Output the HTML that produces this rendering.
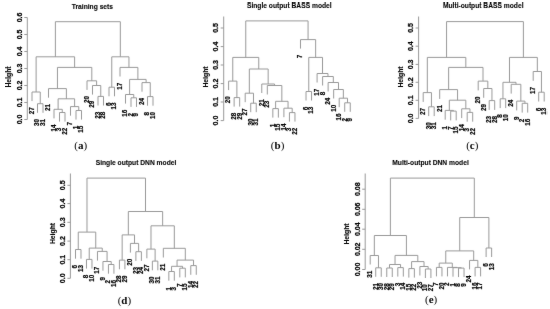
<!DOCTYPE html>
<html><head><meta charset="utf-8"><title>Dendrograms</title>
<style>
html,body{margin:0;padding:0;background:#fff;}
body{width:550px;height:309px;overflow:hidden;}
svg{display:block;will-change:transform;}
.ln line{stroke:#999999;stroke-width:1;fill:none;}
text{font-family:"Liberation Sans",sans-serif;fill:#000;stroke:#000;stroke-width:0.2px;}
text.b{font-weight:bold;}
text.cap{font-family:"Liberation Serif",serif;}
</style></head>
<body>
<svg width="550" height="309" viewBox="0 0 550 309">
<defs><filter id="bl" x="0" y="0" width="100%" height="100%"><feConvolveMatrix order="3" kernelMatrix="0.008 0.045 0.008 0.045 0.788 0.045 0.008 0.045 0.008" preserveAlpha="false"/></filter></defs>
<rect width="550" height="309" fill="#fff"/>
<g filter="url(#bl)">
<g class="ln">
<line x1="27.30" y1="17.50" x2="27.30" y2="119.50"/>
<line x1="24.30" y1="119.50" x2="27.30" y2="119.50"/>
<line x1="24.30" y1="102.50" x2="27.30" y2="102.50"/>
<line x1="24.30" y1="85.50" x2="27.30" y2="85.50"/>
<line x1="24.30" y1="68.50" x2="27.30" y2="68.50"/>
<line x1="24.30" y1="51.50" x2="27.30" y2="51.50"/>
<line x1="24.30" y1="34.50" x2="27.30" y2="34.50"/>
<line x1="24.30" y1="17.50" x2="27.30" y2="17.50"/>
</g>
<text class="b" transform="translate(19.40,119.50) rotate(-90)" text-anchor="middle" dy="0.30em" font-size="7.0" style="stroke-width:0.25px">0.0</text>
<text class="b" transform="translate(19.40,102.50) rotate(-90)" text-anchor="middle" dy="0.30em" font-size="7.0" style="stroke-width:0.25px">0.1</text>
<text class="b" transform="translate(19.40,85.50) rotate(-90)" text-anchor="middle" dy="0.30em" font-size="7.0" style="stroke-width:0.25px">0.2</text>
<text class="b" transform="translate(19.40,68.50) rotate(-90)" text-anchor="middle" dy="0.30em" font-size="7.0" style="stroke-width:0.25px">0.3</text>
<text class="b" transform="translate(19.40,51.50) rotate(-90)" text-anchor="middle" dy="0.30em" font-size="7.0" style="stroke-width:0.25px">0.4</text>
<text class="b" transform="translate(19.40,34.50) rotate(-90)" text-anchor="middle" dy="0.30em" font-size="7.0" style="stroke-width:0.25px">0.5</text>
<text class="b" transform="translate(19.40,17.50) rotate(-90)" text-anchor="middle" dy="0.30em" font-size="7.0" style="stroke-width:0.25px">0.6</text>
<text class="b" transform="translate(9.20,77.00) rotate(-90)" text-anchor="middle" dy="0.30em" font-size="6.8" style="stroke-width:0.1px">Height</text>
<text class="b" x="92.40" y="9.00" text-anchor="middle" font-size="6.7" style="stroke-width:0.1px">Training sets</text>
<g class="ln">
<line x1="32.00" y1="92.00" x2="32.00" y2="101.10"/>
<line x1="37.50" y1="103.70" x2="37.50" y2="112.80"/>
<line x1="43.00" y1="103.70" x2="43.00" y2="112.80"/>
<line x1="37.50" y1="103.70" x2="43.00" y2="103.70"/>
<line x1="40.25" y1="92.00" x2="40.25" y2="103.70"/>
<line x1="32.00" y1="92.00" x2="40.25" y2="92.00"/>
<line x1="36.12" y1="56.80" x2="36.12" y2="92.00"/>
<line x1="48.50" y1="88.60" x2="48.50" y2="97.70"/>
<line x1="54.00" y1="109.30" x2="54.00" y2="118.40"/>
<line x1="59.50" y1="112.50" x2="59.50" y2="121.60"/>
<line x1="65.00" y1="112.50" x2="65.00" y2="121.60"/>
<line x1="59.50" y1="112.50" x2="65.00" y2="112.50"/>
<line x1="62.25" y1="109.30" x2="62.25" y2="112.50"/>
<line x1="54.00" y1="109.30" x2="62.25" y2="109.30"/>
<line x1="58.12" y1="98.80" x2="58.12" y2="109.30"/>
<line x1="70.50" y1="106.60" x2="70.50" y2="115.70"/>
<line x1="76.00" y1="110.50" x2="76.00" y2="119.60"/>
<line x1="81.50" y1="110.50" x2="81.50" y2="119.60"/>
<line x1="76.00" y1="110.50" x2="81.50" y2="110.50"/>
<line x1="78.75" y1="106.60" x2="78.75" y2="110.50"/>
<line x1="70.50" y1="106.60" x2="78.75" y2="106.60"/>
<line x1="74.62" y1="98.80" x2="74.62" y2="106.60"/>
<line x1="58.12" y1="98.80" x2="74.62" y2="98.80"/>
<line x1="66.38" y1="88.60" x2="66.38" y2="98.80"/>
<line x1="48.50" y1="88.60" x2="66.38" y2="88.60"/>
<line x1="57.44" y1="67.40" x2="57.44" y2="88.60"/>
<line x1="87.00" y1="80.80" x2="87.00" y2="89.90"/>
<line x1="92.50" y1="85.50" x2="92.50" y2="94.60"/>
<line x1="98.00" y1="96.40" x2="98.00" y2="105.50"/>
<line x1="103.50" y1="96.40" x2="103.50" y2="105.50"/>
<line x1="98.00" y1="96.40" x2="103.50" y2="96.40"/>
<line x1="100.75" y1="85.50" x2="100.75" y2="96.40"/>
<line x1="92.50" y1="85.50" x2="100.75" y2="85.50"/>
<line x1="96.62" y1="80.80" x2="96.62" y2="85.50"/>
<line x1="87.00" y1="80.80" x2="96.62" y2="80.80"/>
<line x1="91.81" y1="67.40" x2="91.81" y2="80.80"/>
<line x1="57.44" y1="67.40" x2="91.81" y2="67.40"/>
<line x1="74.62" y1="56.80" x2="74.62" y2="67.40"/>
<line x1="36.12" y1="56.80" x2="74.62" y2="56.80"/>
<line x1="55.38" y1="21.70" x2="55.38" y2="56.80"/>
<line x1="109.00" y1="87.20" x2="109.00" y2="96.30"/>
<line x1="114.50" y1="87.20" x2="114.50" y2="96.30"/>
<line x1="109.00" y1="87.20" x2="114.50" y2="87.20"/>
<line x1="111.75" y1="56.80" x2="111.75" y2="87.20"/>
<line x1="120.00" y1="67.40" x2="120.00" y2="76.50"/>
<line x1="125.50" y1="94.50" x2="125.50" y2="103.60"/>
<line x1="131.00" y1="97.80" x2="131.00" y2="106.90"/>
<line x1="136.50" y1="97.80" x2="136.50" y2="106.90"/>
<line x1="131.00" y1="97.80" x2="136.50" y2="97.80"/>
<line x1="133.75" y1="94.50" x2="133.75" y2="97.80"/>
<line x1="125.50" y1="94.50" x2="133.75" y2="94.50"/>
<line x1="129.62" y1="79.40" x2="129.62" y2="94.50"/>
<line x1="142.00" y1="82.60" x2="142.00" y2="91.70"/>
<line x1="147.50" y1="96.60" x2="147.50" y2="105.70"/>
<line x1="153.00" y1="96.60" x2="153.00" y2="105.70"/>
<line x1="147.50" y1="96.60" x2="153.00" y2="96.60"/>
<line x1="150.25" y1="82.60" x2="150.25" y2="96.60"/>
<line x1="142.00" y1="82.60" x2="150.25" y2="82.60"/>
<line x1="146.12" y1="79.40" x2="146.12" y2="82.60"/>
<line x1="129.62" y1="79.40" x2="146.12" y2="79.40"/>
<line x1="137.88" y1="67.40" x2="137.88" y2="79.40"/>
<line x1="120.00" y1="67.40" x2="137.88" y2="67.40"/>
<line x1="128.94" y1="56.80" x2="128.94" y2="67.40"/>
<line x1="111.75" y1="56.80" x2="128.94" y2="56.80"/>
<line x1="120.34" y1="21.70" x2="120.34" y2="56.80"/>
<line x1="55.38" y1="21.70" x2="120.34" y2="21.70"/>
</g>
<text class="b" transform="translate(32.00,107.30) rotate(-90)" text-anchor="end" dy="0.30em" font-size="6.3">27</text>
<text class="b" transform="translate(37.50,119.00) rotate(-90)" text-anchor="end" dy="0.30em" font-size="6.3">30</text>
<text class="b" transform="translate(43.00,119.00) rotate(-90)" text-anchor="end" dy="0.30em" font-size="6.3">31</text>
<text class="b" transform="translate(48.50,103.90) rotate(-90)" text-anchor="end" dy="0.30em" font-size="6.3">21</text>
<text class="b" transform="translate(54.00,124.60) rotate(-90)" text-anchor="end" dy="0.30em" font-size="6.3">14</text>
<text class="b" transform="translate(59.50,127.80) rotate(-90)" text-anchor="end" dy="0.30em" font-size="6.3">3</text>
<text class="b" transform="translate(65.00,127.80) rotate(-90)" text-anchor="end" dy="0.30em" font-size="6.3">22</text>
<text class="b" transform="translate(70.50,121.90) rotate(-90)" text-anchor="end" dy="0.30em" font-size="6.3">7</text>
<text class="b" transform="translate(76.00,125.80) rotate(-90)" text-anchor="end" dy="0.30em" font-size="6.3">1</text>
<text class="b" transform="translate(81.50,125.80) rotate(-90)" text-anchor="end" dy="0.30em" font-size="6.3">15</text>
<text class="b" transform="translate(87.00,96.10) rotate(-90)" text-anchor="end" dy="0.30em" font-size="6.3">20</text>
<text class="b" transform="translate(92.50,100.80) rotate(-90)" text-anchor="end" dy="0.30em" font-size="6.3">29</text>
<text class="b" transform="translate(98.00,111.70) rotate(-90)" text-anchor="end" dy="0.30em" font-size="6.3">23</text>
<text class="b" transform="translate(103.50,111.70) rotate(-90)" text-anchor="end" dy="0.30em" font-size="6.3">28</text>
<text class="b" transform="translate(109.00,102.50) rotate(-90)" text-anchor="end" dy="0.30em" font-size="6.3">6</text>
<text class="b" transform="translate(114.50,102.50) rotate(-90)" text-anchor="end" dy="0.30em" font-size="6.3">13</text>
<text class="b" transform="translate(120.00,82.70) rotate(-90)" text-anchor="end" dy="0.30em" font-size="6.3">17</text>
<text class="b" transform="translate(125.50,109.80) rotate(-90)" text-anchor="end" dy="0.30em" font-size="6.3">16</text>
<text class="b" transform="translate(131.00,113.10) rotate(-90)" text-anchor="end" dy="0.30em" font-size="6.3">2</text>
<text class="b" transform="translate(136.50,113.10) rotate(-90)" text-anchor="end" dy="0.30em" font-size="6.3">9</text>
<text class="b" transform="translate(142.00,97.90) rotate(-90)" text-anchor="end" dy="0.30em" font-size="6.3">24</text>
<text class="b" transform="translate(147.50,111.90) rotate(-90)" text-anchor="end" dy="0.30em" font-size="6.3">8</text>
<text class="b" transform="translate(153.00,111.90) rotate(-90)" text-anchor="end" dy="0.30em" font-size="6.3">10</text>
<g class="ln">
<line x1="223.70" y1="16.50" x2="223.70" y2="120.60"/>
<line x1="220.70" y1="120.60" x2="223.70" y2="120.60"/>
<line x1="220.70" y1="102.00" x2="223.70" y2="102.00"/>
<line x1="220.70" y1="83.60" x2="223.70" y2="83.60"/>
<line x1="220.70" y1="65.00" x2="223.70" y2="65.00"/>
<line x1="220.70" y1="46.60" x2="223.70" y2="46.60"/>
<line x1="220.70" y1="28.00" x2="223.70" y2="28.00"/>
</g>
<text class="b" transform="translate(215.90,120.60) rotate(-90)" text-anchor="middle" dy="0.30em" font-size="7.0" style="stroke-width:0.25px">0.0</text>
<text class="b" transform="translate(215.90,102.00) rotate(-90)" text-anchor="middle" dy="0.30em" font-size="7.0" style="stroke-width:0.25px">0.1</text>
<text class="b" transform="translate(215.90,83.60) rotate(-90)" text-anchor="middle" dy="0.30em" font-size="7.0" style="stroke-width:0.25px">0.2</text>
<text class="b" transform="translate(215.90,65.00) rotate(-90)" text-anchor="middle" dy="0.30em" font-size="7.0" style="stroke-width:0.25px">0.3</text>
<text class="b" transform="translate(215.90,46.60) rotate(-90)" text-anchor="middle" dy="0.30em" font-size="7.0" style="stroke-width:0.25px">0.4</text>
<text class="b" transform="translate(215.90,28.00) rotate(-90)" text-anchor="middle" dy="0.30em" font-size="7.0" style="stroke-width:0.25px">0.5</text>
<text class="b" transform="translate(206.20,77.00) rotate(-90)" text-anchor="middle" dy="0.30em" font-size="6.8" style="stroke-width:0.1px">Height</text>
<text class="b" x="289.30" y="8.30" text-anchor="middle" font-size="6.7" style="stroke-width:0.1px">Single output BASS model</text>
<g class="ln">
<line x1="228.60" y1="81.10" x2="228.60" y2="90.10"/>
<line x1="234.13" y1="97.60" x2="234.13" y2="106.60"/>
<line x1="239.66" y1="97.60" x2="239.66" y2="106.60"/>
<line x1="234.13" y1="97.60" x2="239.66" y2="97.60"/>
<line x1="236.89" y1="81.10" x2="236.89" y2="97.60"/>
<line x1="228.60" y1="81.10" x2="236.89" y2="81.10"/>
<line x1="232.75" y1="57.40" x2="232.75" y2="81.10"/>
<line x1="245.19" y1="93.20" x2="245.19" y2="102.20"/>
<line x1="250.72" y1="103.20" x2="250.72" y2="112.20"/>
<line x1="256.25" y1="103.20" x2="256.25" y2="112.20"/>
<line x1="250.72" y1="103.20" x2="256.25" y2="103.20"/>
<line x1="253.49" y1="93.20" x2="253.49" y2="103.20"/>
<line x1="245.19" y1="93.20" x2="253.49" y2="93.20"/>
<line x1="249.34" y1="69.00" x2="249.34" y2="93.20"/>
<line x1="261.78" y1="84.00" x2="261.78" y2="93.00"/>
<line x1="267.31" y1="85.50" x2="267.31" y2="94.50"/>
<line x1="272.84" y1="108.60" x2="272.84" y2="117.60"/>
<line x1="278.37" y1="108.60" x2="278.37" y2="117.60"/>
<line x1="272.84" y1="108.60" x2="278.37" y2="108.60"/>
<line x1="275.61" y1="101.30" x2="275.61" y2="108.60"/>
<line x1="283.90" y1="108.20" x2="283.90" y2="117.20"/>
<line x1="289.43" y1="112.60" x2="289.43" y2="121.60"/>
<line x1="294.96" y1="112.60" x2="294.96" y2="121.60"/>
<line x1="289.43" y1="112.60" x2="294.96" y2="112.60"/>
<line x1="292.19" y1="108.20" x2="292.19" y2="112.60"/>
<line x1="283.90" y1="108.20" x2="292.19" y2="108.20"/>
<line x1="288.05" y1="101.30" x2="288.05" y2="108.20"/>
<line x1="275.61" y1="101.30" x2="288.05" y2="101.30"/>
<line x1="281.83" y1="85.50" x2="281.83" y2="101.30"/>
<line x1="267.31" y1="85.50" x2="281.83" y2="85.50"/>
<line x1="274.57" y1="84.00" x2="274.57" y2="85.50"/>
<line x1="261.78" y1="84.00" x2="274.57" y2="84.00"/>
<line x1="268.17" y1="69.00" x2="268.17" y2="84.00"/>
<line x1="249.34" y1="69.00" x2="268.17" y2="69.00"/>
<line x1="258.76" y1="57.40" x2="258.76" y2="69.00"/>
<line x1="232.75" y1="57.40" x2="258.76" y2="57.40"/>
<line x1="245.75" y1="20.90" x2="245.75" y2="57.40"/>
<line x1="300.49" y1="39.60" x2="300.49" y2="48.60"/>
<line x1="306.02" y1="91.50" x2="306.02" y2="100.50"/>
<line x1="311.55" y1="91.50" x2="311.55" y2="100.50"/>
<line x1="306.02" y1="91.50" x2="311.55" y2="91.50"/>
<line x1="308.78" y1="57.40" x2="308.78" y2="91.50"/>
<line x1="317.08" y1="73.50" x2="317.08" y2="82.50"/>
<line x1="322.61" y1="76.50" x2="322.61" y2="85.50"/>
<line x1="328.14" y1="82.50" x2="328.14" y2="91.50"/>
<line x1="333.67" y1="89.50" x2="333.67" y2="98.50"/>
<line x1="339.20" y1="98.20" x2="339.20" y2="107.20"/>
<line x1="344.73" y1="102.80" x2="344.73" y2="111.80"/>
<line x1="350.26" y1="102.80" x2="350.26" y2="111.80"/>
<line x1="344.73" y1="102.80" x2="350.26" y2="102.80"/>
<line x1="347.50" y1="98.20" x2="347.50" y2="102.80"/>
<line x1="339.20" y1="98.20" x2="347.50" y2="98.20"/>
<line x1="343.35" y1="89.50" x2="343.35" y2="98.20"/>
<line x1="333.67" y1="89.50" x2="343.35" y2="89.50"/>
<line x1="338.51" y1="82.50" x2="338.51" y2="89.50"/>
<line x1="328.14" y1="82.50" x2="338.51" y2="82.50"/>
<line x1="333.32" y1="76.50" x2="333.32" y2="82.50"/>
<line x1="322.61" y1="76.50" x2="333.32" y2="76.50"/>
<line x1="327.97" y1="73.50" x2="327.97" y2="76.50"/>
<line x1="317.08" y1="73.50" x2="327.97" y2="73.50"/>
<line x1="322.52" y1="57.40" x2="322.52" y2="73.50"/>
<line x1="308.78" y1="57.40" x2="322.52" y2="57.40"/>
<line x1="315.65" y1="39.60" x2="315.65" y2="57.40"/>
<line x1="300.49" y1="39.60" x2="315.65" y2="39.60"/>
<line x1="308.07" y1="20.90" x2="308.07" y2="39.60"/>
<line x1="245.75" y1="20.90" x2="308.07" y2="20.90"/>
</g>
<text class="b" transform="translate(228.60,96.30) rotate(-90)" text-anchor="end" dy="0.30em" font-size="6.3">20</text>
<text class="b" transform="translate(234.13,112.80) rotate(-90)" text-anchor="end" dy="0.30em" font-size="6.3">28</text>
<text class="b" transform="translate(239.66,112.80) rotate(-90)" text-anchor="end" dy="0.30em" font-size="6.3">29</text>
<text class="b" transform="translate(245.19,108.40) rotate(-90)" text-anchor="end" dy="0.30em" font-size="6.3">27</text>
<text class="b" transform="translate(250.72,118.40) rotate(-90)" text-anchor="end" dy="0.30em" font-size="6.3">30</text>
<text class="b" transform="translate(256.25,118.40) rotate(-90)" text-anchor="end" dy="0.30em" font-size="6.3">31</text>
<text class="b" transform="translate(261.78,99.20) rotate(-90)" text-anchor="end" dy="0.30em" font-size="6.3">21</text>
<text class="b" transform="translate(267.31,100.70) rotate(-90)" text-anchor="end" dy="0.30em" font-size="6.3">23</text>
<text class="b" transform="translate(272.84,123.80) rotate(-90)" text-anchor="end" dy="0.30em" font-size="6.3">1</text>
<text class="b" transform="translate(278.37,123.80) rotate(-90)" text-anchor="end" dy="0.30em" font-size="6.3">15</text>
<text class="b" transform="translate(283.90,123.40) rotate(-90)" text-anchor="end" dy="0.30em" font-size="6.3">14</text>
<text class="b" transform="translate(289.43,127.80) rotate(-90)" text-anchor="end" dy="0.30em" font-size="6.3">3</text>
<text class="b" transform="translate(294.96,127.80) rotate(-90)" text-anchor="end" dy="0.30em" font-size="6.3">22</text>
<text class="b" transform="translate(300.49,54.80) rotate(-90)" text-anchor="end" dy="0.30em" font-size="6.3">7</text>
<text class="b" transform="translate(306.02,106.70) rotate(-90)" text-anchor="end" dy="0.30em" font-size="6.3">6</text>
<text class="b" transform="translate(311.55,106.70) rotate(-90)" text-anchor="end" dy="0.30em" font-size="6.3">13</text>
<text class="b" transform="translate(317.08,88.70) rotate(-90)" text-anchor="end" dy="0.30em" font-size="6.3">17</text>
<text class="b" transform="translate(322.61,91.70) rotate(-90)" text-anchor="end" dy="0.30em" font-size="6.3">8</text>
<text class="b" transform="translate(328.14,97.70) rotate(-90)" text-anchor="end" dy="0.30em" font-size="6.3">24</text>
<text class="b" transform="translate(333.67,104.70) rotate(-90)" text-anchor="end" dy="0.30em" font-size="6.3">10</text>
<text class="b" transform="translate(339.20,113.40) rotate(-90)" text-anchor="end" dy="0.30em" font-size="6.3">16</text>
<text class="b" transform="translate(344.73,118.00) rotate(-90)" text-anchor="end" dy="0.30em" font-size="6.3">2</text>
<text class="b" transform="translate(350.26,118.00) rotate(-90)" text-anchor="end" dy="0.30em" font-size="6.3">9</text>
<g class="ln">
<line x1="418.60" y1="16.50" x2="418.60" y2="118.40"/>
<line x1="415.60" y1="118.40" x2="418.60" y2="118.40"/>
<line x1="415.60" y1="100.30" x2="418.60" y2="100.30"/>
<line x1="415.60" y1="82.30" x2="418.60" y2="82.30"/>
<line x1="415.60" y1="64.40" x2="418.60" y2="64.40"/>
<line x1="415.60" y1="46.20" x2="418.60" y2="46.20"/>
<line x1="415.60" y1="28.00" x2="418.60" y2="28.00"/>
</g>
<text class="b" transform="translate(410.90,118.40) rotate(-90)" text-anchor="middle" dy="0.30em" font-size="7.0" style="stroke-width:0.25px">0.0</text>
<text class="b" transform="translate(410.90,100.30) rotate(-90)" text-anchor="middle" dy="0.30em" font-size="7.0" style="stroke-width:0.25px">0.1</text>
<text class="b" transform="translate(410.90,82.30) rotate(-90)" text-anchor="middle" dy="0.30em" font-size="7.0" style="stroke-width:0.25px">0.2</text>
<text class="b" transform="translate(410.90,64.40) rotate(-90)" text-anchor="middle" dy="0.30em" font-size="7.0" style="stroke-width:0.25px">0.3</text>
<text class="b" transform="translate(410.90,46.20) rotate(-90)" text-anchor="middle" dy="0.30em" font-size="7.0" style="stroke-width:0.25px">0.4</text>
<text class="b" transform="translate(410.90,28.00) rotate(-90)" text-anchor="middle" dy="0.30em" font-size="7.0" style="stroke-width:0.25px">0.5</text>
<text class="b" transform="translate(400.90,77.00) rotate(-90)" text-anchor="middle" dy="0.30em" font-size="6.8" style="stroke-width:0.1px">Height</text>
<text class="b" x="483.20" y="8.30" text-anchor="middle" font-size="6.7" style="stroke-width:0.1px">Multi-output BASS model</text>
<g class="ln">
<line x1="423.20" y1="92.60" x2="423.20" y2="101.90"/>
<line x1="428.70" y1="106.80" x2="428.70" y2="116.10"/>
<line x1="434.20" y1="106.80" x2="434.20" y2="116.10"/>
<line x1="428.70" y1="106.80" x2="434.20" y2="106.80"/>
<line x1="431.45" y1="92.60" x2="431.45" y2="106.80"/>
<line x1="423.20" y1="92.60" x2="431.45" y2="92.60"/>
<line x1="427.32" y1="57.40" x2="427.32" y2="92.60"/>
<line x1="439.70" y1="89.60" x2="439.70" y2="98.90"/>
<line x1="445.20" y1="110.40" x2="445.20" y2="119.70"/>
<line x1="450.70" y1="111.10" x2="450.70" y2="120.40"/>
<line x1="456.20" y1="111.10" x2="456.20" y2="120.40"/>
<line x1="450.70" y1="111.10" x2="456.20" y2="111.10"/>
<line x1="453.45" y1="110.40" x2="453.45" y2="111.10"/>
<line x1="445.20" y1="110.40" x2="453.45" y2="110.40"/>
<line x1="449.32" y1="100.20" x2="449.32" y2="110.40"/>
<line x1="461.70" y1="108.80" x2="461.70" y2="118.10"/>
<line x1="467.20" y1="112.40" x2="467.20" y2="121.70"/>
<line x1="472.70" y1="112.40" x2="472.70" y2="121.70"/>
<line x1="467.20" y1="112.40" x2="472.70" y2="112.40"/>
<line x1="469.95" y1="108.80" x2="469.95" y2="112.40"/>
<line x1="461.70" y1="108.80" x2="469.95" y2="108.80"/>
<line x1="465.82" y1="100.20" x2="465.82" y2="108.80"/>
<line x1="449.32" y1="100.20" x2="465.82" y2="100.20"/>
<line x1="457.57" y1="89.60" x2="457.57" y2="100.20"/>
<line x1="439.70" y1="89.60" x2="457.57" y2="89.60"/>
<line x1="448.64" y1="67.40" x2="448.64" y2="89.60"/>
<line x1="478.20" y1="81.10" x2="478.20" y2="90.40"/>
<line x1="483.70" y1="88.50" x2="483.70" y2="97.80"/>
<line x1="489.20" y1="100.60" x2="489.20" y2="109.90"/>
<line x1="494.70" y1="100.60" x2="494.70" y2="109.90"/>
<line x1="489.20" y1="100.60" x2="494.70" y2="100.60"/>
<line x1="491.95" y1="88.50" x2="491.95" y2="100.60"/>
<line x1="483.70" y1="88.50" x2="491.95" y2="88.50"/>
<line x1="487.82" y1="81.10" x2="487.82" y2="88.50"/>
<line x1="478.20" y1="81.10" x2="487.82" y2="81.10"/>
<line x1="483.01" y1="67.40" x2="483.01" y2="81.10"/>
<line x1="448.64" y1="67.40" x2="483.01" y2="67.40"/>
<line x1="465.82" y1="57.40" x2="465.82" y2="67.40"/>
<line x1="427.32" y1="57.40" x2="465.82" y2="57.40"/>
<line x1="446.57" y1="21.60" x2="446.57" y2="57.40"/>
<line x1="500.20" y1="98.80" x2="500.20" y2="108.10"/>
<line x1="505.70" y1="98.80" x2="505.70" y2="108.10"/>
<line x1="500.20" y1="98.80" x2="505.70" y2="98.80"/>
<line x1="502.95" y1="82.30" x2="502.95" y2="98.80"/>
<line x1="511.20" y1="84.30" x2="511.20" y2="93.60"/>
<line x1="516.70" y1="101.10" x2="516.70" y2="110.40"/>
<line x1="522.20" y1="103.30" x2="522.20" y2="112.60"/>
<line x1="527.70" y1="103.30" x2="527.70" y2="112.60"/>
<line x1="522.20" y1="103.30" x2="527.70" y2="103.30"/>
<line x1="524.95" y1="101.10" x2="524.95" y2="103.30"/>
<line x1="516.70" y1="101.10" x2="524.95" y2="101.10"/>
<line x1="520.83" y1="84.30" x2="520.83" y2="101.10"/>
<line x1="511.20" y1="84.30" x2="520.83" y2="84.30"/>
<line x1="516.01" y1="82.30" x2="516.01" y2="84.30"/>
<line x1="502.95" y1="82.30" x2="516.01" y2="82.30"/>
<line x1="509.48" y1="57.40" x2="509.48" y2="82.30"/>
<line x1="533.20" y1="71.50" x2="533.20" y2="80.80"/>
<line x1="538.70" y1="92.20" x2="538.70" y2="101.50"/>
<line x1="544.20" y1="92.20" x2="544.20" y2="101.50"/>
<line x1="538.70" y1="92.20" x2="544.20" y2="92.20"/>
<line x1="541.45" y1="71.50" x2="541.45" y2="92.20"/>
<line x1="533.20" y1="71.50" x2="541.45" y2="71.50"/>
<line x1="537.33" y1="57.40" x2="537.33" y2="71.50"/>
<line x1="509.48" y1="57.40" x2="537.33" y2="57.40"/>
<line x1="523.40" y1="21.60" x2="523.40" y2="57.40"/>
<line x1="446.57" y1="21.60" x2="523.40" y2="21.60"/>
</g>
<text class="b" transform="translate(423.20,108.10) rotate(-90)" text-anchor="end" dy="0.30em" font-size="6.3">27</text>
<text class="b" transform="translate(428.70,122.30) rotate(-90)" text-anchor="end" dy="0.30em" font-size="6.3">30</text>
<text class="b" transform="translate(434.20,122.30) rotate(-90)" text-anchor="end" dy="0.30em" font-size="6.3">31</text>
<text class="b" transform="translate(439.70,105.10) rotate(-90)" text-anchor="end" dy="0.30em" font-size="6.3">21</text>
<text class="b" transform="translate(445.20,125.90) rotate(-90)" text-anchor="end" dy="0.30em" font-size="6.3">1</text>
<text class="b" transform="translate(450.70,126.60) rotate(-90)" text-anchor="end" dy="0.30em" font-size="6.3">7</text>
<text class="b" transform="translate(456.20,126.60) rotate(-90)" text-anchor="end" dy="0.30em" font-size="6.3">15</text>
<text class="b" transform="translate(461.70,124.30) rotate(-90)" text-anchor="end" dy="0.30em" font-size="6.3">14</text>
<text class="b" transform="translate(467.20,127.90) rotate(-90)" text-anchor="end" dy="0.30em" font-size="6.3">3</text>
<text class="b" transform="translate(472.70,127.90) rotate(-90)" text-anchor="end" dy="0.30em" font-size="6.3">22</text>
<text class="b" transform="translate(478.20,96.60) rotate(-90)" text-anchor="end" dy="0.30em" font-size="6.3">20</text>
<text class="b" transform="translate(483.70,104.00) rotate(-90)" text-anchor="end" dy="0.30em" font-size="6.3">29</text>
<text class="b" transform="translate(489.20,116.10) rotate(-90)" text-anchor="end" dy="0.30em" font-size="6.3">23</text>
<text class="b" transform="translate(494.70,116.10) rotate(-90)" text-anchor="end" dy="0.30em" font-size="6.3">28</text>
<text class="b" transform="translate(500.20,114.30) rotate(-90)" text-anchor="end" dy="0.30em" font-size="6.3">8</text>
<text class="b" transform="translate(505.70,114.30) rotate(-90)" text-anchor="end" dy="0.30em" font-size="6.3">10</text>
<text class="b" transform="translate(511.20,99.80) rotate(-90)" text-anchor="end" dy="0.30em" font-size="6.3">24</text>
<text class="b" transform="translate(516.70,116.60) rotate(-90)" text-anchor="end" dy="0.30em" font-size="6.3">9</text>
<text class="b" transform="translate(522.20,118.80) rotate(-90)" text-anchor="end" dy="0.30em" font-size="6.3">2</text>
<text class="b" transform="translate(527.70,118.80) rotate(-90)" text-anchor="end" dy="0.30em" font-size="6.3">16</text>
<text class="b" transform="translate(533.20,87.00) rotate(-90)" text-anchor="end" dy="0.30em" font-size="6.3">17</text>
<text class="b" transform="translate(538.70,107.70) rotate(-90)" text-anchor="end" dy="0.30em" font-size="6.3">6</text>
<text class="b" transform="translate(544.20,107.70) rotate(-90)" text-anchor="end" dy="0.30em" font-size="6.3">13</text>
<g class="ln">
<line x1="70.40" y1="173.50" x2="70.40" y2="278.30"/>
<line x1="67.40" y1="278.30" x2="70.40" y2="278.30"/>
<line x1="67.40" y1="259.70" x2="70.40" y2="259.70"/>
<line x1="67.40" y1="241.10" x2="70.40" y2="241.10"/>
<line x1="67.40" y1="222.30" x2="70.40" y2="222.30"/>
<line x1="67.40" y1="203.60" x2="70.40" y2="203.60"/>
<line x1="67.40" y1="185.30" x2="70.40" y2="185.30"/>
</g>
<text class="b" transform="translate(62.70,278.30) rotate(-90)" text-anchor="middle" dy="0.30em" font-size="7.0" style="stroke-width:0.25px">0.0</text>
<text class="b" transform="translate(62.70,259.70) rotate(-90)" text-anchor="middle" dy="0.30em" font-size="7.0" style="stroke-width:0.25px">0.1</text>
<text class="b" transform="translate(62.70,241.10) rotate(-90)" text-anchor="middle" dy="0.30em" font-size="7.0" style="stroke-width:0.25px">0.2</text>
<text class="b" transform="translate(62.70,222.30) rotate(-90)" text-anchor="middle" dy="0.30em" font-size="7.0" style="stroke-width:0.25px">0.3</text>
<text class="b" transform="translate(62.70,203.60) rotate(-90)" text-anchor="middle" dy="0.30em" font-size="7.0" style="stroke-width:0.25px">0.4</text>
<text class="b" transform="translate(62.70,185.30) rotate(-90)" text-anchor="middle" dy="0.30em" font-size="7.0" style="stroke-width:0.25px">0.5</text>
<text class="b" transform="translate(52.80,233.50) rotate(-90)" text-anchor="middle" dy="0.30em" font-size="6.8" style="stroke-width:0.1px">Height</text>
<text class="b" x="136.00" y="165.10" text-anchor="middle" font-size="6.7" style="stroke-width:0.1px">Single output DNN model</text>
<g class="ln">
<line x1="75.50" y1="249.50" x2="75.50" y2="258.70"/>
<line x1="80.99" y1="249.50" x2="80.99" y2="258.70"/>
<line x1="75.50" y1="249.50" x2="80.99" y2="249.50"/>
<line x1="78.25" y1="232.10" x2="78.25" y2="249.50"/>
<line x1="86.48" y1="259.40" x2="86.48" y2="268.60"/>
<line x1="91.97" y1="259.40" x2="91.97" y2="268.60"/>
<line x1="86.48" y1="259.40" x2="91.97" y2="259.40"/>
<line x1="89.22" y1="248.10" x2="89.22" y2="259.40"/>
<line x1="97.46" y1="251.40" x2="97.46" y2="260.60"/>
<line x1="102.95" y1="261.50" x2="102.95" y2="270.70"/>
<line x1="108.44" y1="264.50" x2="108.44" y2="273.70"/>
<line x1="113.93" y1="264.50" x2="113.93" y2="273.70"/>
<line x1="108.44" y1="264.50" x2="113.93" y2="264.50"/>
<line x1="111.19" y1="261.50" x2="111.19" y2="264.50"/>
<line x1="102.95" y1="261.50" x2="111.19" y2="261.50"/>
<line x1="107.07" y1="251.40" x2="107.07" y2="261.50"/>
<line x1="97.46" y1="251.40" x2="107.07" y2="251.40"/>
<line x1="102.26" y1="248.10" x2="102.26" y2="251.40"/>
<line x1="89.22" y1="248.10" x2="102.26" y2="248.10"/>
<line x1="95.74" y1="232.10" x2="95.74" y2="248.10"/>
<line x1="78.25" y1="232.10" x2="95.74" y2="232.10"/>
<line x1="86.99" y1="178.10" x2="86.99" y2="232.10"/>
<line x1="119.42" y1="260.10" x2="119.42" y2="269.30"/>
<line x1="124.91" y1="260.10" x2="124.91" y2="269.30"/>
<line x1="119.42" y1="260.10" x2="124.91" y2="260.10"/>
<line x1="122.16" y1="234.90" x2="122.16" y2="260.10"/>
<line x1="130.40" y1="243.40" x2="130.40" y2="252.60"/>
<line x1="135.89" y1="251.70" x2="135.89" y2="260.90"/>
<line x1="141.38" y1="251.70" x2="141.38" y2="260.90"/>
<line x1="135.89" y1="251.70" x2="141.38" y2="251.70"/>
<line x1="138.63" y1="243.40" x2="138.63" y2="251.70"/>
<line x1="130.40" y1="243.40" x2="138.63" y2="243.40"/>
<line x1="134.52" y1="234.90" x2="134.52" y2="243.40"/>
<line x1="122.16" y1="234.90" x2="134.52" y2="234.90"/>
<line x1="128.34" y1="211.50" x2="128.34" y2="234.90"/>
<line x1="146.87" y1="249.10" x2="146.87" y2="258.30"/>
<line x1="152.36" y1="261.10" x2="152.36" y2="270.30"/>
<line x1="157.85" y1="261.10" x2="157.85" y2="270.30"/>
<line x1="152.36" y1="261.10" x2="157.85" y2="261.10"/>
<line x1="155.11" y1="249.10" x2="155.11" y2="261.10"/>
<line x1="146.87" y1="249.10" x2="155.11" y2="249.10"/>
<line x1="150.99" y1="225.80" x2="150.99" y2="249.10"/>
<line x1="163.34" y1="248.30" x2="163.34" y2="257.50"/>
<line x1="168.83" y1="271.50" x2="168.83" y2="280.70"/>
<line x1="174.32" y1="271.50" x2="174.32" y2="280.70"/>
<line x1="168.83" y1="271.50" x2="174.32" y2="271.50"/>
<line x1="171.57" y1="266.30" x2="171.57" y2="271.50"/>
<line x1="179.81" y1="268.20" x2="179.81" y2="277.40"/>
<line x1="185.30" y1="268.20" x2="185.30" y2="277.40"/>
<line x1="179.81" y1="268.20" x2="185.30" y2="268.20"/>
<line x1="182.56" y1="266.30" x2="182.56" y2="268.20"/>
<line x1="171.57" y1="266.30" x2="182.56" y2="266.30"/>
<line x1="177.06" y1="260.10" x2="177.06" y2="266.30"/>
<line x1="190.79" y1="265.60" x2="190.79" y2="274.80"/>
<line x1="196.28" y1="265.60" x2="196.28" y2="274.80"/>
<line x1="190.79" y1="265.60" x2="196.28" y2="265.60"/>
<line x1="193.54" y1="260.10" x2="193.54" y2="265.60"/>
<line x1="177.06" y1="260.10" x2="193.54" y2="260.10"/>
<line x1="185.30" y1="248.30" x2="185.30" y2="260.10"/>
<line x1="163.34" y1="248.30" x2="185.30" y2="248.30"/>
<line x1="174.32" y1="225.80" x2="174.32" y2="248.30"/>
<line x1="150.99" y1="225.80" x2="174.32" y2="225.80"/>
<line x1="162.65" y1="211.50" x2="162.65" y2="225.80"/>
<line x1="128.34" y1="211.50" x2="162.65" y2="211.50"/>
<line x1="145.50" y1="178.10" x2="145.50" y2="211.50"/>
<line x1="86.99" y1="178.10" x2="145.50" y2="178.10"/>
</g>
<text class="b" transform="translate(75.50,264.90) rotate(-90)" text-anchor="end" dy="0.30em" font-size="6.3">6</text>
<text class="b" transform="translate(80.99,264.90) rotate(-90)" text-anchor="end" dy="0.30em" font-size="6.3">13</text>
<text class="b" transform="translate(86.48,274.80) rotate(-90)" text-anchor="end" dy="0.30em" font-size="6.3">8</text>
<text class="b" transform="translate(91.97,274.80) rotate(-90)" text-anchor="end" dy="0.30em" font-size="6.3">10</text>
<text class="b" transform="translate(97.46,266.80) rotate(-90)" text-anchor="end" dy="0.30em" font-size="6.3">17</text>
<text class="b" transform="translate(102.95,276.90) rotate(-90)" text-anchor="end" dy="0.30em" font-size="6.3">9</text>
<text class="b" transform="translate(108.44,279.90) rotate(-90)" text-anchor="end" dy="0.30em" font-size="6.3">2</text>
<text class="b" transform="translate(113.93,279.90) rotate(-90)" text-anchor="end" dy="0.30em" font-size="6.3">16</text>
<text class="b" transform="translate(119.42,275.50) rotate(-90)" text-anchor="end" dy="0.30em" font-size="6.3">28</text>
<text class="b" transform="translate(124.91,275.50) rotate(-90)" text-anchor="end" dy="0.30em" font-size="6.3">29</text>
<text class="b" transform="translate(130.40,258.80) rotate(-90)" text-anchor="end" dy="0.30em" font-size="6.3">20</text>
<text class="b" transform="translate(135.89,267.10) rotate(-90)" text-anchor="end" dy="0.30em" font-size="6.3">23</text>
<text class="b" transform="translate(141.38,267.10) rotate(-90)" text-anchor="end" dy="0.30em" font-size="6.3">24</text>
<text class="b" transform="translate(146.87,264.50) rotate(-90)" text-anchor="end" dy="0.30em" font-size="6.3">27</text>
<text class="b" transform="translate(152.36,276.50) rotate(-90)" text-anchor="end" dy="0.30em" font-size="6.3">30</text>
<text class="b" transform="translate(157.85,276.50) rotate(-90)" text-anchor="end" dy="0.30em" font-size="6.3">31</text>
<text class="b" transform="translate(163.34,263.70) rotate(-90)" text-anchor="end" dy="0.30em" font-size="6.3">21</text>
<text class="b" transform="translate(168.83,286.90) rotate(-90)" text-anchor="end" dy="0.30em" font-size="6.3">1</text>
<text class="b" transform="translate(174.32,286.90) rotate(-90)" text-anchor="end" dy="0.30em" font-size="6.3">3</text>
<text class="b" transform="translate(179.81,283.60) rotate(-90)" text-anchor="end" dy="0.30em" font-size="6.3">7</text>
<text class="b" transform="translate(185.30,283.60) rotate(-90)" text-anchor="end" dy="0.30em" font-size="6.3">15</text>
<text class="b" transform="translate(190.79,281.00) rotate(-90)" text-anchor="end" dy="0.30em" font-size="6.3">14</text>
<text class="b" transform="translate(196.28,281.00) rotate(-90)" text-anchor="end" dy="0.30em" font-size="6.3">22</text>
<g class="ln">
<line x1="365.20" y1="173.50" x2="365.20" y2="269.50"/>
<line x1="362.20" y1="269.50" x2="365.20" y2="269.50"/>
<line x1="362.20" y1="249.30" x2="365.20" y2="249.30"/>
<line x1="362.20" y1="229.20" x2="365.20" y2="229.20"/>
<line x1="362.20" y1="209.30" x2="365.20" y2="209.30"/>
<line x1="362.20" y1="189.20" x2="365.20" y2="189.20"/>
</g>
<text class="b" transform="translate(357.40,269.50) rotate(-90)" text-anchor="middle" dy="0.30em" font-size="7.0" style="stroke-width:0.25px">0.00</text>
<text class="b" transform="translate(357.40,249.30) rotate(-90)" text-anchor="middle" dy="0.30em" font-size="7.0" style="stroke-width:0.25px">0.02</text>
<text class="b" transform="translate(357.40,229.20) rotate(-90)" text-anchor="middle" dy="0.30em" font-size="7.0" style="stroke-width:0.25px">0.04</text>
<text class="b" transform="translate(357.40,209.30) rotate(-90)" text-anchor="middle" dy="0.30em" font-size="7.0" style="stroke-width:0.25px">0.06</text>
<text class="b" transform="translate(357.40,189.20) rotate(-90)" text-anchor="middle" dy="0.30em" font-size="7.0" style="stroke-width:0.25px">0.08</text>
<text class="b" transform="translate(347.30,234.00) rotate(-90)" text-anchor="middle" dy="0.30em" font-size="6.8" style="stroke-width:0.1px">Height</text>
<text class="b" x="430.50" y="165.10" text-anchor="middle" font-size="6.7" style="stroke-width:0.1px">Multi-output DNN model</text>
<g class="ln">
<line x1="370.20" y1="255.50" x2="370.20" y2="264.50"/>
<line x1="375.72" y1="267.80" x2="375.72" y2="276.80"/>
<line x1="381.24" y1="267.80" x2="381.24" y2="276.80"/>
<line x1="375.72" y1="267.80" x2="381.24" y2="267.80"/>
<line x1="378.48" y1="255.50" x2="378.48" y2="267.80"/>
<line x1="370.20" y1="255.50" x2="378.48" y2="255.50"/>
<line x1="374.34" y1="235.50" x2="374.34" y2="255.50"/>
<line x1="386.76" y1="268.00" x2="386.76" y2="277.00"/>
<line x1="392.28" y1="268.00" x2="392.28" y2="277.00"/>
<line x1="386.76" y1="268.00" x2="392.28" y2="268.00"/>
<line x1="389.52" y1="264.50" x2="389.52" y2="268.00"/>
<line x1="397.80" y1="267.60" x2="397.80" y2="276.60"/>
<line x1="403.32" y1="267.60" x2="403.32" y2="276.60"/>
<line x1="397.80" y1="267.60" x2="403.32" y2="267.60"/>
<line x1="400.56" y1="264.50" x2="400.56" y2="267.60"/>
<line x1="389.52" y1="264.50" x2="400.56" y2="264.50"/>
<line x1="395.04" y1="255.40" x2="395.04" y2="264.50"/>
<line x1="408.84" y1="268.60" x2="408.84" y2="277.60"/>
<line x1="414.36" y1="268.60" x2="414.36" y2="277.60"/>
<line x1="408.84" y1="268.60" x2="414.36" y2="268.60"/>
<line x1="411.60" y1="261.60" x2="411.60" y2="268.60"/>
<line x1="419.88" y1="266.50" x2="419.88" y2="275.50"/>
<line x1="425.40" y1="269.00" x2="425.40" y2="278.00"/>
<line x1="430.92" y1="269.00" x2="430.92" y2="278.00"/>
<line x1="425.40" y1="269.00" x2="430.92" y2="269.00"/>
<line x1="428.16" y1="266.50" x2="428.16" y2="269.00"/>
<line x1="419.88" y1="266.50" x2="428.16" y2="266.50"/>
<line x1="424.02" y1="261.60" x2="424.02" y2="266.50"/>
<line x1="411.60" y1="261.60" x2="424.02" y2="261.60"/>
<line x1="417.81" y1="255.40" x2="417.81" y2="261.60"/>
<line x1="395.04" y1="255.40" x2="417.81" y2="255.40"/>
<line x1="406.42" y1="235.50" x2="406.42" y2="255.40"/>
<line x1="374.34" y1="235.50" x2="406.42" y2="235.50"/>
<line x1="390.38" y1="178.10" x2="390.38" y2="235.50"/>
<line x1="436.44" y1="267.40" x2="436.44" y2="276.40"/>
<line x1="441.96" y1="267.40" x2="441.96" y2="276.40"/>
<line x1="436.44" y1="267.40" x2="441.96" y2="267.40"/>
<line x1="439.20" y1="263.10" x2="439.20" y2="267.40"/>
<line x1="447.48" y1="267.40" x2="447.48" y2="276.40"/>
<line x1="453.00" y1="267.70" x2="453.00" y2="276.70"/>
<line x1="458.52" y1="268.10" x2="458.52" y2="277.10"/>
<line x1="464.04" y1="268.10" x2="464.04" y2="277.10"/>
<line x1="458.52" y1="268.10" x2="464.04" y2="268.10"/>
<line x1="461.28" y1="267.70" x2="461.28" y2="268.10"/>
<line x1="453.00" y1="267.70" x2="461.28" y2="267.70"/>
<line x1="457.14" y1="267.40" x2="457.14" y2="267.70"/>
<line x1="447.48" y1="267.40" x2="457.14" y2="267.40"/>
<line x1="452.31" y1="263.10" x2="452.31" y2="267.40"/>
<line x1="439.20" y1="263.10" x2="452.31" y2="263.10"/>
<line x1="445.75" y1="250.90" x2="445.75" y2="263.10"/>
<line x1="469.56" y1="260.40" x2="469.56" y2="269.40"/>
<line x1="475.08" y1="267.40" x2="475.08" y2="276.40"/>
<line x1="480.60" y1="267.40" x2="480.60" y2="276.40"/>
<line x1="475.08" y1="267.40" x2="480.60" y2="267.40"/>
<line x1="477.84" y1="260.40" x2="477.84" y2="267.40"/>
<line x1="469.56" y1="260.40" x2="477.84" y2="260.40"/>
<line x1="473.70" y1="250.90" x2="473.70" y2="260.40"/>
<line x1="445.75" y1="250.90" x2="473.70" y2="250.90"/>
<line x1="459.73" y1="217.50" x2="459.73" y2="250.90"/>
<line x1="486.12" y1="248.00" x2="486.12" y2="257.00"/>
<line x1="491.64" y1="248.00" x2="491.64" y2="257.00"/>
<line x1="486.12" y1="248.00" x2="491.64" y2="248.00"/>
<line x1="488.88" y1="217.50" x2="488.88" y2="248.00"/>
<line x1="459.73" y1="217.50" x2="488.88" y2="217.50"/>
<line x1="474.30" y1="178.10" x2="474.30" y2="217.50"/>
<line x1="390.38" y1="178.10" x2="474.30" y2="178.10"/>
</g>
<text class="b" transform="translate(370.20,270.70) rotate(-90)" text-anchor="end" dy="0.30em" font-size="6.3">31</text>
<text class="b" transform="translate(375.72,283.00) rotate(-90)" text-anchor="end" dy="0.30em" font-size="6.3">21</text>
<text class="b" transform="translate(381.24,283.00) rotate(-90)" text-anchor="end" dy="0.30em" font-size="6.3">30</text>
<text class="b" transform="translate(386.76,283.20) rotate(-90)" text-anchor="end" dy="0.30em" font-size="6.3">28</text>
<text class="b" transform="translate(392.28,283.20) rotate(-90)" text-anchor="end" dy="0.30em" font-size="6.3">29</text>
<text class="b" transform="translate(397.80,282.80) rotate(-90)" text-anchor="end" dy="0.30em" font-size="6.3">3</text>
<text class="b" transform="translate(403.32,282.80) rotate(-90)" text-anchor="end" dy="0.30em" font-size="6.3">14</text>
<text class="b" transform="translate(408.84,283.80) rotate(-90)" text-anchor="end" dy="0.30em" font-size="6.3">15</text>
<text class="b" transform="translate(414.36,283.80) rotate(-90)" text-anchor="end" dy="0.30em" font-size="6.3">22</text>
<text class="b" transform="translate(419.88,281.70) rotate(-90)" text-anchor="end" dy="0.30em" font-size="6.3">23</text>
<text class="b" transform="translate(425.40,284.20) rotate(-90)" text-anchor="end" dy="0.30em" font-size="6.3">10</text>
<text class="b" transform="translate(430.92,284.20) rotate(-90)" text-anchor="end" dy="0.30em" font-size="6.3">27</text>
<text class="b" transform="translate(436.44,282.60) rotate(-90)" text-anchor="end" dy="0.30em" font-size="6.3">7</text>
<text class="b" transform="translate(441.96,282.60) rotate(-90)" text-anchor="end" dy="0.30em" font-size="6.3">20</text>
<text class="b" transform="translate(447.48,282.60) rotate(-90)" text-anchor="end" dy="0.30em" font-size="6.3">2</text>
<text class="b" transform="translate(453.00,282.90) rotate(-90)" text-anchor="end" dy="0.30em" font-size="6.3">1</text>
<text class="b" transform="translate(458.52,283.30) rotate(-90)" text-anchor="end" dy="0.30em" font-size="6.3">8</text>
<text class="b" transform="translate(464.04,283.30) rotate(-90)" text-anchor="end" dy="0.30em" font-size="6.3">9</text>
<text class="b" transform="translate(469.56,275.60) rotate(-90)" text-anchor="end" dy="0.30em" font-size="6.3">24</text>
<text class="b" transform="translate(475.08,282.60) rotate(-90)" text-anchor="end" dy="0.30em" font-size="6.3">16</text>
<text class="b" transform="translate(480.60,282.60) rotate(-90)" text-anchor="end" dy="0.30em" font-size="6.3">17</text>
<text class="b" transform="translate(486.12,263.20) rotate(-90)" text-anchor="end" dy="0.30em" font-size="6.3">6</text>
<text class="b" transform="translate(491.64,263.20) rotate(-90)" text-anchor="end" dy="0.30em" font-size="6.3">13</text>
<text class="cap" x="80.70" y="148.60" text-anchor="middle" font-size="11.0" style="stroke-width:0px">(<tspan font-weight="bold">a</tspan>)</text>
<text class="cap" x="277.60" y="148.60" text-anchor="middle" font-size="11.0" style="stroke-width:0px">(<tspan font-weight="bold">b</tspan>)</text>
<text class="cap" x="472.30" y="148.60" text-anchor="middle" font-size="11.0" style="stroke-width:0px">(<tspan font-weight="bold">c</tspan>)</text>
<text class="cap" x="124.40" y="304.20" text-anchor="middle" font-size="11.0" style="stroke-width:0px">(<tspan font-weight="bold">d</tspan>)</text>
<text class="cap" x="431.10" y="303.40" text-anchor="middle" font-size="11.0" style="stroke-width:0px">(<tspan font-weight="bold">e</tspan>)</text>
</g>
</svg>
</body></html>
